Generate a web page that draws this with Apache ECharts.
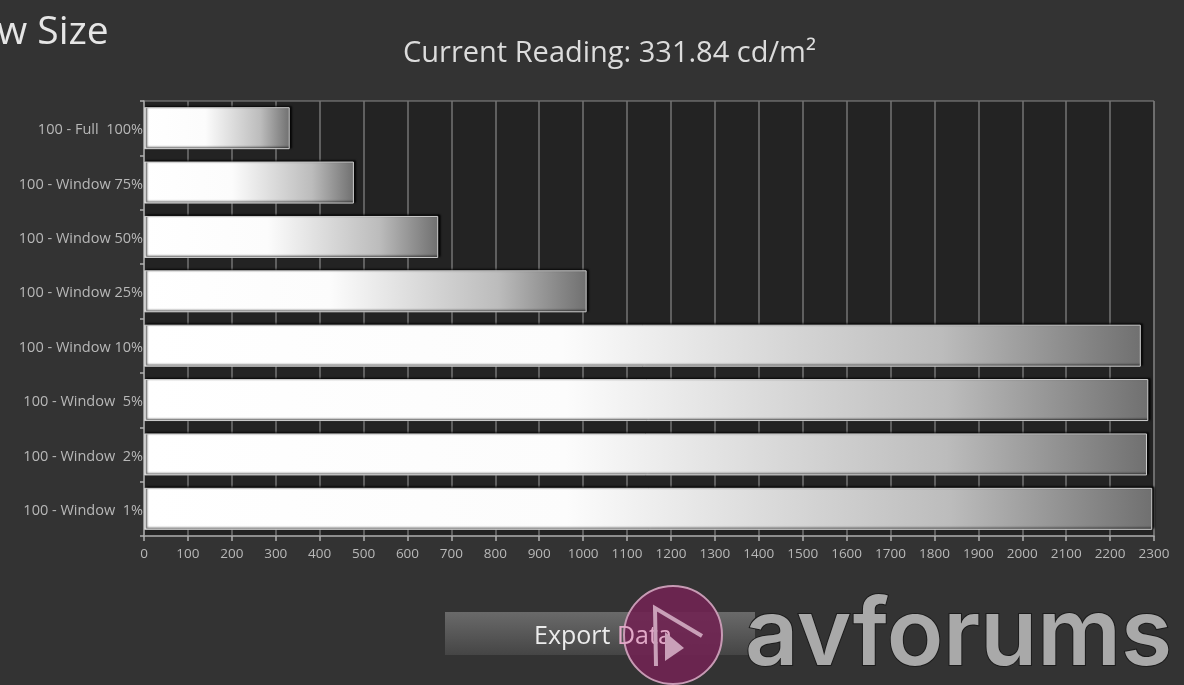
<!DOCTYPE html>
<html>
<head>
<meta charset="utf-8">
<style>html,body{margin:0;padding:0;background:#333;overflow:hidden}#c{width:1184px;height:685px}</style>
<script src="https://cdn.jsdelivr.net/npm/echarts@6/dist/echarts.min.js"></script>
</head>
<body>
<div id="c"></div>
<script>
const categories = ['100 - Full  100%','100 - Window 75%','100 - Window 50%','100 - Window 25%','100 - Window 10%','100 - Window  5%','100 - Window  2%','100 - Window  1%'];
const luminance = [331.84, 478, 670, 1008, 2270, 2287, 2284, 2296];
const chartTitle = 'Current Reading: 331.84 cd/m²';
const pageTitle = 'w Size';
const buttonLabel = '{a|Export} {b|Data}';
const brand = 'avforums';

const chart = echarts.init(document.getElementById('c'));
const font = '"Open Sans", sans-serif';
chart.setOption({
  animation: false,
  backgroundColor: '#333333',
  grid: {left: 144, right: 30, top: 101, bottom: 149, show: true, backgroundColor: '#232323', borderColor: '#8a8a8a', borderWidth: 1},
  xAxis: {
    type: 'value', min: 0, max: 2300, interval: 100, position: 'bottom',
    axisLine: {show: true, lineStyle: {color: '#a0a0a0', width: 1.5}},
    axisTick: {show: true, length: 5, lineStyle: {color: '#b0b0b0', width: 1.5}},
    splitLine: {show: true, lineStyle: {color: '#757575', width: 1.5}},
    axisLabel: {color: '#b8b8b8', fontSize: 13.5, fontFamily: font, margin: 11, hideOverlap: false,
      formatter: function (v) { return String(v); }}
  },
  yAxis: {
    type: 'category', inverse: true, data: categories,
    axisLine: {show: true, lineStyle: {color: '#a0a0a0', width: 1.5}},
    axisTick: {show: true, length: 4, alignWithLabel: false, lineStyle: {color: '#b0b0b0', width: 1.5}},
    axisLabel: {
      margin: 1,
      formatter: function (v) { return '{l|' + v + '}'; },
      rich: {l: {color: '#b8b8b8', fontSize: 14.5, fontFamily: font, padding: [4, 0, 0, 0]}}
    }
  },
  series: [{
    type: 'bar', data: luminance, barWidth: 42, z: 3,
    itemStyle: {
      color: new echarts.graphic.LinearGradient(0, 0, 1, 0, [
        {offset: 0, color: '#ffffff'},
        {offset: 0.42, color: '#fcfcfc'},
        {offset: 0.8, color: '#bcbcbc'},
        {offset: 1, color: '#707070'}
      ]),
      borderColor: '#d0d0d0', borderWidth: 1,
      shadowColor: '#000000', shadowBlur: 2, shadowOffsetX: 2, shadowOffsetY: -1
    }
  }],
  graphic: {elements: [
    {type: 'text', left: -3, top: 13, style: {text: pageTitle, fill: '#e6e6e6', font: '39px ' + font}},
    {type: 'text', left: 403, top: 39, style: {text: chartTitle, fill: '#dcdcdc', font: '29px ' + font}},
    {type: 'rect', shape: {x: 445, y: 612, width: 310, height: 43}, z: 10,
      style: {fill: new echarts.graphic.LinearGradient(0, 0, 0, 1, [
        {offset: 0, color: '#6a6a6a'}, {offset: 1, color: '#454545'}])}},
    {type: 'circle', shape: {cx: 673, cy: 635, r: 49}, z: 11,
      style: {fill: 'rgba(112,36,82,0.9)', stroke: '#c79ab4', lineWidth: 2}},
    {type: 'text', left: 534, top: 624, z: 12, style: {
      text: buttonLabel, font: '25px ' + font,
      rich: {a: {fill: '#ececec', font: '25px ' + font}, b: {fill: '#e2a9c8', font: '25px ' + font}}
    }},
    {type: 'polyline', z: 13, shape: {points: [[656, 666], [655, 608], [702, 636]]},
      style: {fill: 'none', stroke: '#c9a0b8', lineWidth: 4}},
    {type: 'polygon', z: 13, shape: {points: [[665, 632], [684, 648], [665, 661]]},
      style: {fill: '#c9a0b8'}},
    {type: 'text', left: 744, top: 590, z: 14,
      style: {text: brand, fill: '#a9a9a9', stroke: '#1c1c1c', lineWidth: 2, font: '600 93px Inter, sans-serif'}}
  ]}
});
</script>
</body>
</html>
